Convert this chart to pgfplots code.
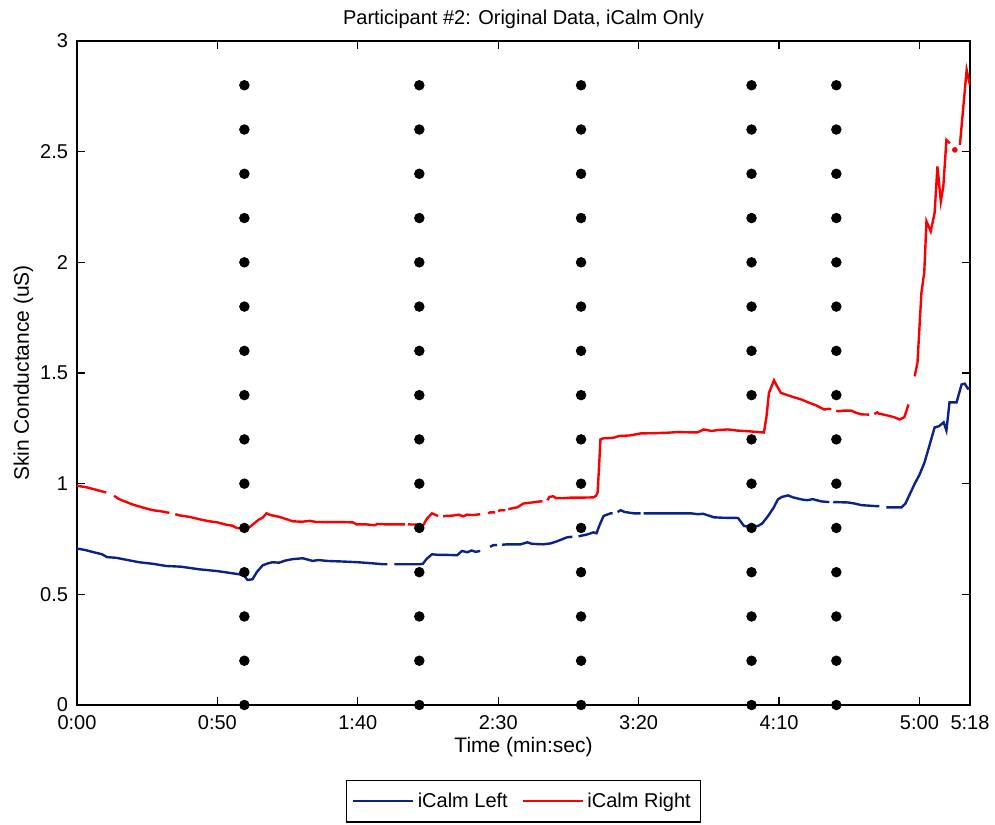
\documentclass[border=0pt]{standalone}
\usepackage{pgfplots}
\pgfplotsset{compat=1.18}
\usepackage{fontspec}
\setmainfont{Liberation Sans}

\definecolor{leftblue}{RGB}{10,35,135}
\definecolor{rightred}{RGB}{250,0,0}

\begin{document}
\begin{tikzpicture}
\useasboundingbox (0,0) rectangle (497.5pt,412pt);
\begin{axis}[
  at={(38.5pt,59.5pt)}, anchor=south west,
  scale only axis, width=446.5pt, height=332pt,
  xmin=0, xmax=318, ymin=0, ymax=3,
  unbounded coords=jump,
  axis line style={black, line width=0.6pt},
  tick align=inside,
  major tick length=4pt,
  tick style={black, line width=0.6pt},
  xtick={0,50,100,150,200,250,300,318},
  xticklabels={0:00,0:50,1:40,2:30,3:20,4:10,5:00,5:18},
  ytick={0,0.5,1,1.5,2,2.5,3},
  yticklabels={0,0.5,1,1.5,2,2.5,3},
  /pgf/number format/assume math mode=true,
  ticklabel style={font=\fontsize{10}{12}\selectfont},
  xticklabel style={yshift=-1.5pt},
  yticklabel style={xshift=-1pt},
  title={Participant \#2: Original Data, iCalm Only},
  title style={font=\fontsize{10}{12}\selectfont, anchor=base, yshift=2pt},
  xlabel={Time (min:sec)},
  xlabel style={font=\fontsize{10.5}{12}\selectfont, at={(axis description cs:0.5,0)}, anchor=base, yshift=-23.5pt},
  ylabel={Skin Conductance (uS)},
  ylabel style={font=\fontsize{10.5}{12}\selectfont, at={(axis description cs:-0.06,0.5)}, anchor=center},
  legend columns=2,
  legend style={at={(0.5,-0.145)}, anchor=center, draw=black, line width=0.6pt,
    font=\fontsize{10}{12}\selectfont, inner xsep=3pt, inner ysep=4pt,
    /tikz/every even column/.append style={column sep=5pt}},
  legend image code/.code={\draw[#1, line width=0.8pt] (0pt,0pt) -- (30pt,0pt);},
]

% left sensor
\addplot[leftblue, line width=1.2pt] coordinates {
(0,0.707) (3,0.700) (6,0.690) (8.9,0.681) (10.7,0.668) (14,0.665) (18,0.655)
(22.1,0.645) (27,0.638) (31.8,0.628) (37,0.625) (43.6,0.613) (50,0.605)
(55.4,0.595) (58,0.590) (59.6,0.583) (60.7,0.565) (62.5,0.568) (64,0.600)
(66.1,0.631) (68,0.640) (69.6,0.645) (72,0.643) (74,0.652) (76.8,0.659)
(80.4,0.663) (83.9,0.651) (86,0.655) (88.9,0.651) (95,0.648) (100,0.645)
(105.4,0.640) (108.9,0.636) (110.5,0.636) (111,nan)
(113,0.636) (118,0.636) (122,0.636) (123.2,0.638) (124.5,0.660) (126.4,0.681)
(129,0.678) (132,0.678) (135.4,0.677) (137.1,0.696) (139,0.690) (140.5,0.698)
(142,0.692) (143.6,0.696) (145,nan)
(147.1,0.715) (148.2,0.722) (149.6,0.722) (150,nan)
(151.4,0.724) (153.2,0.726) (157.9,0.726) (160.4,0.735) (162,0.728) (166.1,0.726)
(168.6,0.730) (171,0.740) (174.6,0.758) (176.4,0.760) (177,nan)
(178.6,0.762) (181.8,0.771) (183.9,0.780) (185,0.776) (186,0.810) (187.5,0.854)
(190,0.866) (190.7,0.866) (191,nan)
(192.5,0.872) (193.6,0.880) (195,0.872) (198.2,0.866) (200.7,0.866) (201,nan)
(201.8,0.866) (203.2,0.866) (210,0.866) (215,0.866) (218.6,0.866) (221.1,0.862)
(223,0.864) (226.8,0.848) (230,0.846) (235.4,0.845) (237.5,0.809) (240,0.805)
(242.5,0.809) (244,0.820) (246.1,0.854) (248,0.890) (249.6,0.929) (251,0.940)
(253.2,0.947) (255,0.938) (257.9,0.929) (260,0.925) (262,0.930) (265,0.920)
(267.5,0.917) (267.9,0.917) (268.5,nan)
(269.3,0.917) (274.6,0.915) (277,0.910) (279.3,0.903) (283.9,0.899) (285.7,0.898) (286.5,nan)
(288.2,0.893) (291.1,0.893) (293.6,0.893) (295,0.910) (298.2,0.997) (300,1.040)
(301.8,1.096) (303.5,1.170) (305.4,1.254) (307,1.260) (308.6,1.277) (309.6,1.240)
(310.7,1.367) (313.2,1.367) (315,1.448) (316.1,1.452) (317.2,1.430) (318,1.432)
};
\addlegendentry{iCalm Left}

% right sensor
\addplot[rightred, line width=1.2pt] coordinates {
(0,0.990) (3,0.985) (6,0.975) (10.4,0.960) (11,nan)
(13.2,0.945) (15,0.930) (17,0.920) (20,0.905) (23.2,0.893) (27,0.880) (30,0.875)
(32.9,0.868) (33.5,nan)
(35,0.862) (36.4,0.857) (40,0.850) (44,0.838) (47.1,0.830) (50,0.825) (53,0.815)
(55.4,0.810) (56.8,0.800) (58,0.798) (60,0.800) (61.4,0.803) (63,0.820)
(65,0.840) (66,0.845) (67.5,0.866) (69,0.858) (72,0.850) (75,0.838) (76.8,0.830)
(80,0.828) (83,0.832) (85,0.827) (90,0.826) (95,0.826) (98.2,0.825) (99.6,0.816)
(103,0.816) (106,0.812) (107,0.818) (110,0.816) (116.8,0.816) (117.2,nan)
(117.9,0.816) (121,0.815) (122.5,0.805) (123.2,0.810) (124.5,0.840) (126.4,0.866)
(127.5,0.860) (128.6,0.854) (129.5,nan)
(130.4,0.852) (131.1,0.854) (134,0.856) (136,0.860) (137.5,0.852) (138.9,0.860)
(141,0.858) (143.6,0.862) (145,nan)
(146.4,0.866) (147.1,0.870) (148.9,0.870) (149.5,nan)
(150,0.875) (150.7,0.880) (152.5,0.880) (153,nan)
(153.6,0.885) (156.8,0.893) (158.9,0.910) (162,0.915) (165,0.920) (165.7,0.920) (166.5,nan)
(167.5,0.925) (168.2,0.940) (169.6,0.943) (170.5,0.935) (172.9,0.934) (176,0.937)
(180,0.937) (183.9,0.938) (184.8,0.945) (185.4,0.960) (186,1.100) (186.4,1.200)
(187.5,1.205) (191,1.207) (192.9,1.215) (197,1.218) (200.7,1.227) (205,1.228)
(210,1.230) (213.9,1.233) (218,1.232) (221,1.232) (223.2,1.245) (226,1.238)
(228,1.242) (231.8,1.245) (235,1.240) (238.9,1.237) (244.6,1.231) (245.5,1.300)
(246.4,1.410) (248.2,1.467) (249.3,1.440) (250.7,1.410) (253,1.400) (255.4,1.390)
(258,1.380) (260.4,1.367) (263,1.355) (266.1,1.335) (267.5,1.338) (268.6,1.337) (269.5,nan)
(270.4,1.330) (271.1,1.327) (273,1.330) (275.7,1.330) (277.5,1.320) (279.3,1.313)
(282.1,1.312) (283,nan)
(283.9,1.315) (285,1.322) (285.4,1.317) (288,1.310) (291.1,1.300) (292.9,1.290)
(294.6,1.300) (296.1,1.358) (297,nan)
(298.3,1.485) (299.3,1.547) (300.7,1.863) (301.7,1.953) (302.5,2.185) (304,2.140)
(305.4,2.223) (306.4,2.433) (307.6,2.275) (308.5,2.343) (309.6,2.553) (310.8,2.538) (312,nan)
(314.4,2.530) (316.8,2.869) (318,2.800)
};
\addlegendentry{iCalm Right}

% isolated right-sensor sample
\addplot[rightred, only marks, mark=*, mark size=1.2pt, forget plot] coordinates {(312.6,2.508)};

% event markers
\addplot[black, only marks, mark=*, mark size=2.4pt, forget plot] table {
x y
59.6 0.0
59.6 0.2
59.6 0.4
59.6 0.6
59.6 0.8
59.6 1.0
59.6 1.2
59.6 1.4
59.6 1.6
59.6 1.8
59.6 2.0
59.6 2.2
59.6 2.4
59.6 2.6
59.6 2.8
121.9 0.0
121.9 0.2
121.9 0.4
121.9 0.6
121.9 0.8
121.9 1.0
121.9 1.2
121.9 1.4
121.9 1.6
121.9 1.8
121.9 2.0
121.9 2.2
121.9 2.4
121.9 2.6
121.9 2.8
179.5 0.0
179.5 0.2
179.5 0.4
179.5 0.6
179.5 0.8
179.5 1.0
179.5 1.2
179.5 1.4
179.5 1.6
179.5 1.8
179.5 2.0
179.5 2.2
179.5 2.4
179.5 2.6
179.5 2.8
240.2 0.0
240.2 0.2
240.2 0.4
240.2 0.6
240.2 0.8
240.2 1.0
240.2 1.2
240.2 1.4
240.2 1.6
240.2 1.8
240.2 2.0
240.2 2.2
240.2 2.4
240.2 2.6
240.2 2.8
270.4 0.0
270.4 0.2
270.4 0.4
270.4 0.6
270.4 0.8
270.4 1.0
270.4 1.2
270.4 1.4
270.4 1.6
270.4 1.8
270.4 2.0
270.4 2.2
270.4 2.4
270.4 2.6
270.4 2.8
};
\end{axis}
\end{tikzpicture}
\end{document}
